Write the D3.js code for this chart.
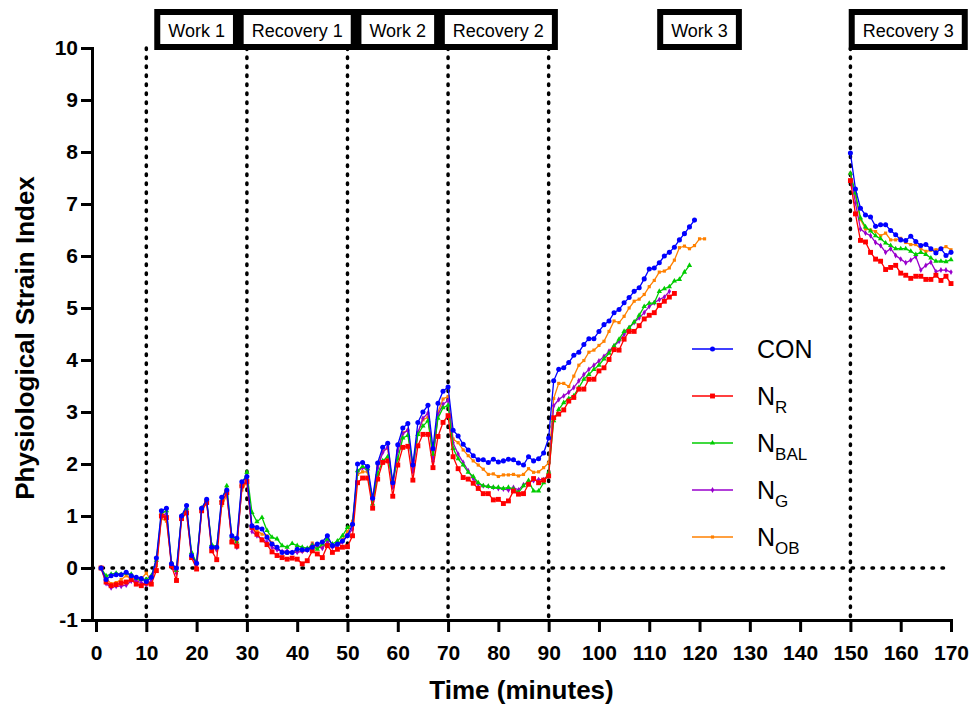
<!DOCTYPE html>
<html>
<head>
<meta charset="utf-8">
<script src="https://cdn.jsdelivr.net/npm/d3@7"></script>
<style>
body { margin: 0; background: #fff; }
svg text { font-family: "Liberation Sans", Arial, sans-serif; }
</style>
</head>
<body>
<svg id="chart" width="976" height="709"></svg>
<script>
// first block of readings starts at minute 1, second block at minute 150
const startA = 1;
const startB = 150;

const conA = [0, -0.22, -0.15, -0.13, -0.13, -0.08, -0.15, -0.18, -0.2, -0.26,
    -0.18, 0.19, 1.1, 1.15, 0.08, 0, 1.0, 1.2, 0.24, 0.09,
    1.15, 1.32, 0.4, 0.4, 1.36, 1.5, 0.62, 0.57, 1.66, 1.76,
    0.81, 0.78, 0.75, 0.59, 0.46, 0.4, 0.3, 0.3, 0.3, 0.36,
    0.35, 0.35, 0.4, 0.46, 0.5, 0.62, 0.43, 0.46, 0.52, 0.62,
    0.84, 2.0, 2.03, 1.95, 1.34, 2.02, 2.32, 2.4, 1.64, 2.37,
    2.69, 2.78, 1.98, 2.8, 3.0, 3.13, 2.3, 3.17, 3.4, 3.48,
    2.65, 2.54, 2.38, 2.27, 2.16, 2.08, 2.08, 2.03, 2.09, 2.04,
    2.06, 2.09, 2.08, 2.02, 1.98, 2.14, 2.06, 2.1, 2.21, 2.5,
    3.6, 3.82, 3.85, 3.95, 4.09, 4.15, 4.3, 4.41, 4.41, 4.55,
    4.68, 4.75, 4.91, 4.97, 5.1, 5.2, 5.32, 5.39, 5.56, 5.75,
    5.77, 5.87, 6.0, 6.07, 6.17, 6.31, 6.43, 6.56, 6.69];
const conB = [7.98, 7.29, 6.92, 6.79, 6.75, 6.57, 6.6, 6.6, 6.49, 6.41, 6.31,
    6.3, 6.38, 6.28, 6.2, 6.22, 6.14, 6.06, 6.14, 6.01, 6.07];

const nrA = [0, -0.27, -0.34, -0.32, -0.29, -0.27, -0.22, -0.31, -0.34, -0.29,
    -0.31, -0.05, 1.0, 0.97, 0.04, -0.24, 0.95, 1.06, 0.2, -0.02,
    1.1, 1.26, 0.33, 0.16, 1.26, 1.45, 0.5, 0.42, 1.58, 1.66,
    0.78, 0.65, 0.54, 0.45, 0.31, 0.24, 0.2, 0.17, 0.19, 0.17,
    0.08, 0.14, 0.33, 0.27, 0.2, 0.43, 0.3, 0.36, 0.4, 0.41,
    0.62, 1.64, 1.73, 1.73, 1.15, 1.71, 2.03, 2.06, 1.38, 1.98,
    2.32, 2.34, 1.69, 2.35, 2.57, 2.57, 1.93, 2.53, 2.8, 2.93,
    2.14, 1.91, 1.74, 1.71, 1.63, 1.53, 1.43, 1.43, 1.31, 1.32,
    1.24, 1.29, 1.48, 1.42, 1.43, 1.61, 1.72, 1.64, 1.69, 1.77,
    2.89, 2.96, 3.04, 3.21, 3.28, 3.44, 3.44, 3.63, 3.63, 3.79,
    3.85, 4.01, 4.2, 4.19, 4.4, 4.55, 4.55, 4.66, 4.79, 4.86,
    4.91, 5.05, 5.13, 5.21, 5.28];
const nrB = [7.45, 6.81, 6.3, 6.27, 6.07, 5.94, 5.9, 5.74, 5.78, 5.82, 5.67,
    5.63, 5.57, 5.61, 5.61, 5.55, 5.55, 5.63, 5.53, 5.61, 5.47];

const nbalA = [0, -0.15, -0.12, -0.1, -0.12, -0.1, -0.12, -0.2, -0.22, -0.22,
    -0.15, 0.15, 1.05, 1.1, 0.1, -0.05, 1.0, 1.15, 0.3, 0.1,
    1.15, 1.3, 0.45, 0.4, 1.3, 1.58, 0.6, 0.5, 1.6, 1.84,
    1.07, 0.89, 0.97, 0.72, 0.59, 0.56, 0.43, 0.4, 0.47, 0.43,
    0.4, 0.38, 0.43, 0.36, 0.46, 0.56, 0.46, 0.52, 0.62, 0.78,
    0.84, 1.87, 1.95, 1.91, 1.23, 1.81, 2.06, 2.14, 1.68, 2.1,
    2.5, 2.55, 2.0, 2.57, 2.73, 2.83, 2.19, 2.88, 3.08, 3.13,
    2.3, 2.1, 1.98, 1.84, 1.76, 1.64, 1.58, 1.57, 1.55, 1.55,
    1.53, 1.55, 1.52, 1.45, 1.58, 1.68, 1.48, 1.48, 1.64, 1.84,
    2.83, 3.05, 3.18, 3.26, 3.31, 3.47, 3.63, 3.72, 3.82, 3.9,
    4.02, 4.13, 4.27, 4.4, 4.55, 4.62, 4.73, 4.86, 5.03, 5.09,
    5.1, 5.32, 5.37, 5.41, 5.52, 5.55, 5.69, 5.82];
const nbalB = [7.59, 7.21, 6.73, 6.56, 6.48, 6.39, 6.33, 6.25, 6.2, 6.14, 6.14,
    6.14, 6.09, 6.03, 6.07, 6.03, 5.96, 5.9, 5.9, 5.89, 5.93];

const ngA = [0, -0.3, -0.38, -0.35, -0.35, -0.33, -0.25, -0.25, -0.28, -0.32,
    -0.25, 0.1, 1.0, 1.05, 0.05, -0.1, 1.0, 1.1, 0.25, 0.05,
    1.1, 1.28, 0.4, 0.35, 1.28, 1.45, 0.55, 0.4, 1.55, 1.7,
    0.7, 0.62, 0.55, 0.5, 0.4, 0.35, 0.32, 0.33, 0.3, 0.3,
    0.32, 0.34, 0.45, 0.42, 0.38, 0.5, 0.4, 0.42, 0.5, 0.62,
    0.75, 1.85, 1.93, 1.88, 1.28, 1.92, 2.22, 2.33, 1.55, 2.25,
    2.58, 2.65, 1.85, 2.6, 2.88, 2.98, 2.05, 2.95, 3.15, 3.22,
    2.41, 2.19, 2.03, 1.87, 1.72, 1.61, 1.58, 1.57, 1.55, 1.53,
    1.52, 1.5, 1.55, 1.5, 1.6, 1.66, 1.68, 1.7, 1.7, 1.8,
    3.12, 3.24, 3.31, 3.38, 3.47, 3.6, 3.72, 3.82, 3.9, 3.98,
    4.07, 4.17, 4.27, 4.36, 4.49, 4.62, 4.72, 4.81, 4.91, 5.03,
    5.1, 5.16, 5.21, 5.32];
const ngB = [7.59, 7.02, 6.52, 6.44, 6.39, 6.26, 6.2, 6.07, 6.14, 6.01, 5.94,
    5.87, 5.92, 5.99, 5.73, 5.82, 5.88, 5.7, 5.73, 5.73, 5.69];

const nobA = [0, -0.2, -0.3, -0.28, -0.22, -0.15, -0.2, -0.28, -0.2, -0.1,
    -0.25, 0.05, 0.95, 0.9, 0.1, -0.05, 0.95, 1.05, 0.25, 0.1,
    1.1, 1.25, 0.4, 0.35, 1.2, 1.4, 0.55, 0.5, 1.5, 1.65,
    0.78, 0.72, 0.65, 0.62, 0.48, 0.38, 0.3, 0.28, 0.3, 0.32,
    0.32, 0.35, 0.48, 0.4, 0.4, 0.5, 0.42, 0.44, 0.55, 0.7,
    0.9, 1.8, 1.85, 1.85, 1.3, 1.95, 2.25, 2.3, 1.6, 2.25,
    2.6, 2.65, 1.9, 2.6, 2.85, 2.9, 2.15, 3.0, 3.25, 3.3,
    2.48, 2.41, 2.27, 2.16, 2.06, 1.98, 1.9, 1.8, 1.81, 1.76,
    1.79, 1.79, 1.8, 1.77, 1.8, 1.91, 1.84, 1.85, 1.93, 2.02,
    3.26, 3.55, 3.55, 3.49, 3.69, 3.9, 3.99, 4.15, 4.19, 4.28,
    4.36, 4.55, 4.75, 4.72, 4.84, 5.0, 5.13, 5.17, 5.26, 5.41,
    5.53, 5.69, 5.71, 5.77, 5.92, 6.16, 6.19, 6.14, 6.2, 6.33,
    6.33];
const nobB = [7.59, 7.15, 6.7, 6.52, 6.5, 6.47, 6.39, 6.44, 6.31, 6.31, 6.34,
    6.26, 6.22, 6.22, 6.14, 6.09, 6.11, 6.12, 6.14, 6.18, 6.12];

const legendMain = ['CON', 'N', 'N', 'N', 'N'];
const legendSub = ['', 'R', 'BAL', 'G', 'OB'];

const phaseLabels = ['Work 1', 'Recovery 1', 'Work 2', 'Recovery 2', 'Work 3', 'Recovery 3'];
const phaseMid = [20, 40, 60, 80, 120, 161.5];
const phaseEdges = [10, 30, 50, 70, 90, 150];

const xTicks = d3.range(0, 171, 10);
const yTicks = d3.range(-1, 11, 1);

// drawing order: last one ends up on top
const series = [
    { a: nobA, b: nobB, color: '#ff8000', symbol: d3.symbolSquare, size: 10 },
    { a: ngA, b: ngB, color: '#9900cc', symbol: d3.symbolDiamond, size: 10 },
    { a: nbalA, b: nbalB, color: '#00cc00', symbol: d3.symbolTriangle, size: 12 },
    { a: nrA, b: nrB, color: '#ff0000', symbol: d3.symbolSquare, size: 24 },
    { a: conA, b: conB, color: '#0000ff', symbol: d3.symbolCircle, size: 20 }
];
// legend order: CON, NR, NBAL, NG, NOB
const legendOrder = [4, 3, 2, 1, 0];

const svg = d3.select('#chart');
const x = d3.scaleLinear().domain([-0.8, 170]).range([92, 951]);
const y = d3.scaleLinear().domain([-1, 10]).range([620, 48]);

// dotted guide lines
svg.append('line')
    .attr('x1', x(-0.8)).attr('x2', 945)
    .attr('y1', y(0)).attr('y2', y(0))
    .attr('stroke', '#000').attr('stroke-width', 3.5)
    .attr('stroke-linecap', 'round').attr('stroke-dasharray', '1.5,8.5');

svg.selectAll('line.edge').data(phaseEdges).join('line')
    .attr('class', 'edge')
    .attr('x1', d => x(d)).attr('x2', d => x(d))
    .attr('y1', y(10)).attr('y2', y(-1))
    .attr('stroke', '#000').attr('stroke-width', 3.5)
    .attr('stroke-linecap', 'round').attr('stroke-dasharray', '1.5,7.5');

// axes (plain hyphen for negatives, like the original)
const xAxis = svg.append('g')
    .attr('transform', `translate(0,${y(-1)})`)
    .call(d3.axisBottom(x).tickValues(xTicks).tickFormat(d => String(d))
        .tickSize(12).tickSizeOuter(0).tickPadding(13));
const yAxis = svg.append('g')
    .attr('transform', `translate(${x(-0.8)},0)`)
    .call(d3.axisLeft(y).tickValues(yTicks).tickFormat(d => String(d))
        .tickSize(11).tickSizeOuter(0).tickPadding(3));

[xAxis, yAxis].forEach(ax => {
    ax.select('.domain').attr('stroke-width', 3).attr('stroke-linecap', 'square');
    ax.selectAll('.tick line').attr('stroke-width', 3);
    ax.selectAll('.tick text').attr('font-size', 21).attr('font-weight', 'bold').attr('fill', '#000');
});

// series
const line = d3.line().x(d => x(d.t)).y(d => y(d.v));
const toPoints = (arr, start) => arr.map((v, i) => ({ t: start + i, v }));

series.forEach(s => {
    const g = svg.append('g');
    [toPoints(s.a, startA), toPoints(s.b, startB)].forEach(pts => {
        g.append('path')
            .datum(pts)
            .attr('d', line)
            .attr('fill', 'none')
            .attr('stroke', s.color)
            .attr('stroke-width', 1.3);
        g.selectAll(null).data(pts).join('path')
            .attr('transform', d => `translate(${x(d.t)},${y(d.v)})`)
            .attr('d', d3.symbol().type(s.symbol).size(s.size))
            .attr('fill', s.color);
    });
});

// phase boxes
phaseLabels.forEach((lbl, i) => {
    const g = svg.append('g');
    const cx = x(phaseMid[i]);
    const t = g.append('text')
        .attr('x', cx).attr('y', 37)
        .attr('text-anchor', 'middle')
        .attr('font-size', 18)
        .text(lbl);
    const w = t.node().getComputedTextLength();
    g.insert('rect', 'text')
        .attr('x', cx - w / 2 - 11).attr('y', 12)
        .attr('width', w + 22).attr('height', 35)
        .attr('fill', '#fff').attr('stroke', '#000').attr('stroke-width', 6);
});

// legend
legendOrder.forEach((si, i) => {
    const s = series[si];
    const base = 358 + i * 47;
    const ly = base - 9;
    svg.append('line')
        .attr('x1', 692).attr('x2', 733)
        .attr('y1', ly).attr('y2', ly)
        .attr('stroke', s.color).attr('stroke-width', 1.5);
    svg.append('path')
        .attr('transform', `translate(712.5,${ly})`)
        .attr('d', d3.symbol().type(s.symbol).size(s.size))
        .attr('fill', s.color);
    const txt = svg.append('text')
        .attr('x', 757).attr('y', base)
        .attr('font-size', 25)
        .text(legendMain[i]);
    if (legendSub[i]) {
        txt.append('tspan')
            .attr('font-size', 17)
            .attr('dy', 8)
            .text(legendSub[i]);
    }
});

// axis titles
svg.append('text')
    .attr('transform', 'translate(34,338) rotate(-90)')
    .attr('text-anchor', 'middle')
    .attr('font-size', 26).attr('font-weight', 'bold')
    .text('Physiological Strain Index');

svg.append('text')
    .attr('x', (x(-0.8) + x(170)) / 2).attr('y', 699)
    .attr('text-anchor', 'middle')
    .attr('font-size', 26).attr('font-weight', 'bold')
    .text('Time (minutes)');
</script>
</body>
</html>
